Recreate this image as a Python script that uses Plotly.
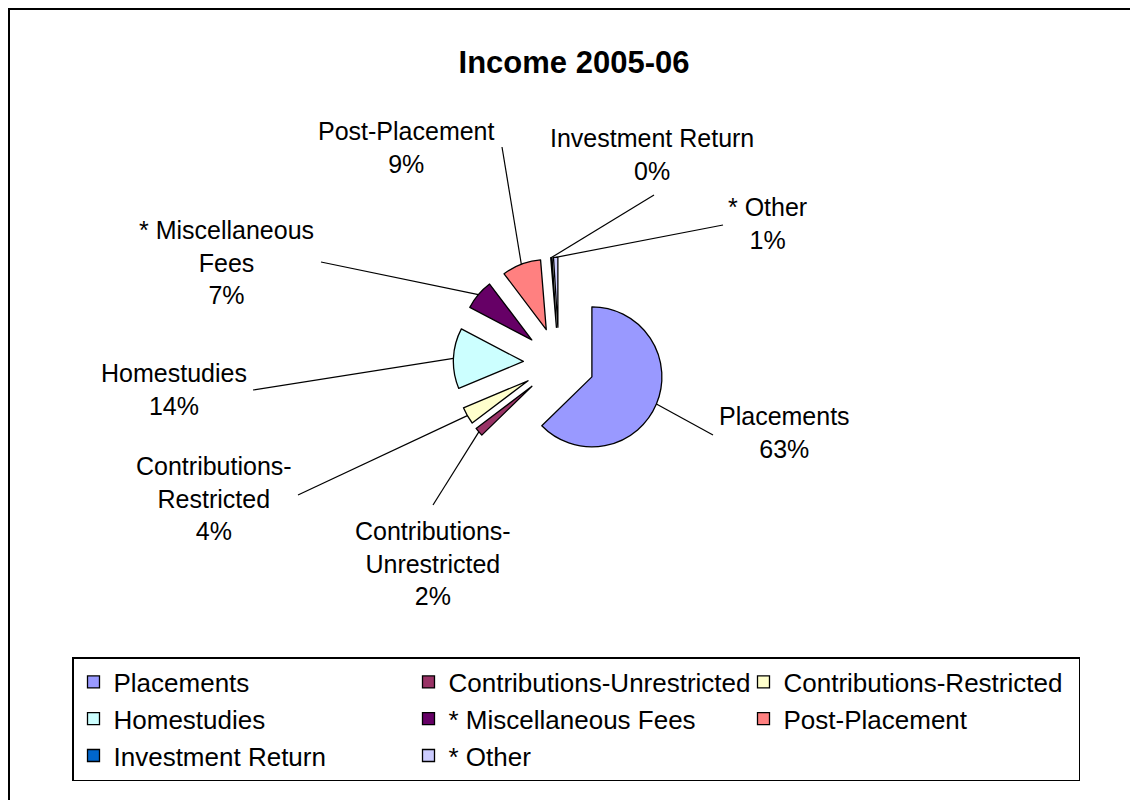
import math
import plotly.graph_objects as go

# ---------------- data ----------------
categories = ["Placements", "Contributions-Unrestricted", "Contributions-Restricted",
              "Homestudies", "* Miscellaneous Fees", "Post-Placement",
              "Investment Return", "* Other"]
values = [62.7, 2.0, 4.0, 14.0, 7.0, 9.0, 0.3, 1.0]
label_texts = ["Placements", "Contributions-<br>Unrestricted", "Contributions-<br>Restricted",
               "Homestudies", "* Miscellaneous<br>Fees", "Post-Placement",
               "Investment Return", "* Other"]
colors = ["#9999FF", "#993366", "#FFFFCC", "#CCFFFF", "#660066", "#FF8080", "#0066CC", "#CCCCFF"]

# ---------------- layout params (page pixels) ----------------
OFF = 8                     # browser body margin
W, H = 1138 - OFF, 800 - OFF
CX, CY, R = 559, 363, 70    # pie centre & radius (page px)
PULL = 0.51                 # explode fraction
FONT = "Liberation Sans, Arial, sans-serif"

# label centres and leader-line start points (page pixels)
label_pos = [(784, 432), (433, 563), (214, 498), (174, 390),
             (226, 262), (406, 147), (652, 155), (767, 224)]
leader_start = [(713, 435), (433, 505), (298, 495), (253, 390),
                (321, 262), (502, 147), (654, 195), (723, 225)]


def px(x):
    return (x - OFF) / W


def py(y):
    return 1 - (y - OFF) / H


half = R * (1 + PULL)
domain_x = [px(CX - half), px(CX + half)]
domain_y = [py(CY + half), py(CY - half)]

fig = go.Figure(go.Pie(
    labels=categories, values=values, sort=False, direction="clockwise", rotation=0,
    pull=[PULL] * len(values), textinfo="none", hoverinfo="label+percent",
    marker=dict(colors=colors, line=dict(color="black", width=1.3)),
    domain=dict(x=domain_x, y=domain_y),
))

total = sum(values)
cum = 0.0
shapes = []
annotations = []
for i, v in enumerate(values):
    mid = 2 * math.pi * (cum + v / 2) / total
    cum += v
    ax_ = CX + half * math.sin(mid)
    ay_ = CY - half * math.cos(mid)
    sx, sy = leader_start[i]
    shapes.append(dict(type="line", xref="paper", yref="paper",
                       x0=px(sx), y0=py(sy), x1=px(ax_), y1=py(ay_),
                       line=dict(color="black", width=1.2)))
    pct = round(v / total * 100)
    lx, ly = label_pos[i]
    annotations.append(dict(xref="paper", yref="paper", x=px(lx), y=py(ly),
                            text=f"{label_texts[i]}<br>{pct}%", showarrow=False,
                            xanchor="center", yanchor="middle", align="center",
                            font=dict(family=FONT, size=25, color="black")))

# outer chart border (top and left visible)
shapes.append(dict(type="rect", xref="paper", yref="paper",
                   x0=1 / W, y0=py(H + 40), x1=px(1160), y1=1 - 1 / H,
                   line=dict(color="black", width=2), layer="below"))

fig.update_layout(
    width=W, height=H, autosize=False,
    margin=dict(l=0, r=0, t=0, b=0),
    paper_bgcolor="white", plot_bgcolor="white",
    title=dict(text="<b>Income 2005-06</b>", x=px(574), y=py(62), xanchor="center",
               yanchor="middle", font=dict(family=FONT, size=31, color="black")),
    showlegend=True,
    legend=dict(orientation="h", x=px(72), y=py(657), xanchor="left", yanchor="top",
                entrywidth=290, entrywidthmode="pixels",
                bordercolor="black", borderwidth=1.5, bgcolor="white",
                font=dict(family=FONT, size=26, color="black"), traceorder="normal"),
    shapes=shapes, annotations=annotations,
)

fig.write_html("out.html")
